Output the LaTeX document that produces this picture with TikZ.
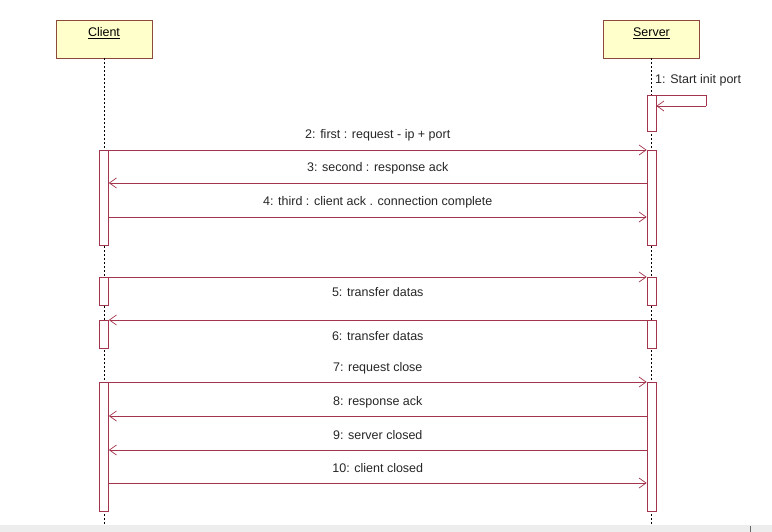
\documentclass[tikz,border=0pt]{standalone}
\usepackage{fontspec}
\setmainfont{Liberation Sans}
\usetikzlibrary{arrows.meta,positioning}

\definecolor{umlred}{HTML}{A3344C}
\definecolor{umlbox}{HTML}{FFFFCC}
\definecolor{umledge}{HTML}{8C4A3A}

\tikzset{
  lifehead/.style={draw=umledge, fill=umlbox, thick, minimum width=96pt, text height=16.5pt, text depth=21.5pt, inner sep=0pt, font=\fontsize{12.5}{14}\selectfont},
  lifeline/.style={dash pattern=on 2pt off 2pt, line width=0.7pt},
  actbox/.style={draw=umlred, fill=white, line width=0.7pt, minimum width=9pt, minimum height=#1, inner sep=0pt, anchor=north},
  msg/.style={draw=umlred, line width=0.7pt, -{Straight Barb[length=7pt,width=10pt]}},
  msgtext/.style={midway, anchor=base, inner sep=0pt, text=black!85, font=\fontsize{12.5}{14}\selectfont},
  msgabove/.style={msgtext, yshift=11pt},
  msgbelow/.style={msgtext, yshift=-20pt}
}

\begin{document}
\begin{tikzpicture}[x=1pt, y=-1pt]
  \useasboundingbox (0,0) rectangle (772,532);
  % screen bottom
  \fill[black!7] (0,525) rectangle (772,532);
  \draw[black!60] (750,526) -- (750,532);

  % heads
  \node[lifehead] (client) at (104,39) {\underline{Client}};
  \node[lifehead] (server) at (651.5,39) {\underline{Server}};

  % lifelines
  \draw[lifeline] (client.south) -- (client.south |- 0,525);
  \draw[lifeline] (server.south) -- (server.south |- 0,525);

  % activations
  \node[actbox=36pt] (s1) at (651.5,95) {};
  \node[actbox=95pt] (s2) at (651.5,150) {};
  \node[actbox=28pt] (s3) at (651.5,277) {};
  \node[actbox=28pt] (s4) at (651.5,320) {};
  \node[actbox=129pt] (s5) at (651.5,382) {};
  \node[actbox=95pt] (c2) at (104,150) {};
  \node[actbox=28pt] (c3) at (104,277) {};
  \node[actbox=28pt] (c4) at (104,320) {};
  \node[actbox=129pt] (c5) at (104,382) {};

  % self message
  \draw[umlred, line width=0.7pt] (s1.north east) -- ++(50,0) -- ++(0,11) coordinate (s1loop);
  \draw[msg] (s1loop) -- (s1.east |- s1loop);
  \node[anchor=base west, inner sep=0pt, text=black!85, font=\fontsize{12.5}{14}\selectfont] (m1) at (655,84) {1: Start init port};

  % handshake
  \draw[msg] (c2.north east) -- (s2.north west) node[msgabove] {2: first : request - ip + port};
  \draw[msg] (s2.west |- 0,183) -- (c2.east |- 0,183) node[msgabove] {3: second : response ack};
  \draw[msg] (c2.east |- 0,217) -- (s2.west |- 0,217) node[msgabove] {4: third : client ack . connection complete};

  % transfer
  \draw[msg] (c3.north east) -- (s3.north west) node[msgbelow] {5: transfer datas};
  \draw[msg] (s4.north west) -- (c4.north east) node[msgbelow] {6: transfer datas};

  % close
  \draw[msg] (c5.north east) -- (s5.north west) node[msgabove] {7: request close};
  \draw[msg] (s5.west |- 0,416) -- (c5.east |- 0,416) node[msgabove] {8: response ack};
  \draw[msg] (s5.west |- 0,450) -- (c5.east |- 0,450) node[msgabove] {9: server closed};
  \draw[msg] (c5.east |- 0,483) -- (s5.west |- 0,483) node[msgabove] {10: client closed};
\end{tikzpicture}
\end{document}
